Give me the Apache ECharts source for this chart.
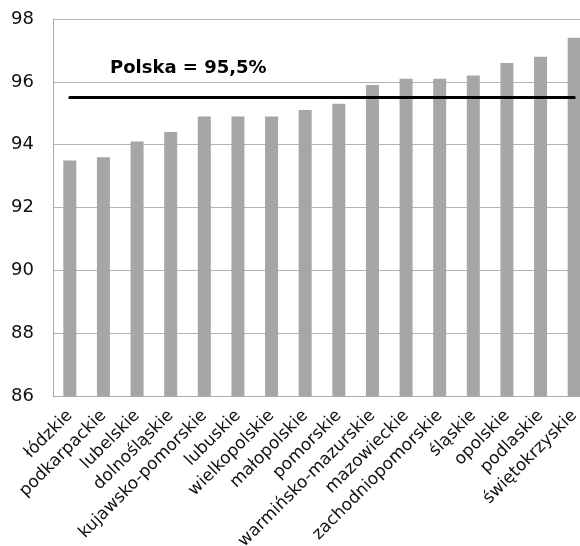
<!DOCTYPE html>
<html>
<head>
<meta charset="utf-8">
<script src="https://cdn.jsdelivr.net/npm/echarts@6/dist/echarts.min.js"></script>
<style>
html,body{margin:0;padding:0;background:#fff;}
#c{width:580px;height:546px;}
</style>
</head>
<body>
<div id="c"></div>
<script>
var categories = ['łódzkie','podkarpackie','lubelskie','dolnośląskie','kujawsko-pomorskie','lubuskie','wielkopolskie','małopolskie','pomorskie','warmińsko-mazurskie','mazowieckie','zachodniopomorskie','śląskie','opolskie','podlaskie','świętokrzyskie'];
var values = [93.5,93.6,94.1,94.4,94.9,94.9,94.9,95.1,95.3,95.9,96.1,96.1,96.2,96.6,96.8,97.4];
var polskaValue = 95.5;
var polskaLabel = 'Polska = 95,5%';
var yTicks = [86,88,90,92,94,96,98];

var polskaLine = categories.map(function(){ return polskaValue; });

var chart = echarts.init(document.getElementById('c'));
chart.setOption({
  animation: false,
  backgroundColor: '#ffffff',
  grid: { left: 53, width: 538, top: 19, height: 377, containLabel: false, outerBoundsMode: 'none' },
  graphic: [{
    type: 'text',
    left: 110,
    top: 59,
    style: {
      text: polskaLabel,
      font: 'bold 18px "DejaVu Sans"',
      fill: '#000'
    }
  }],
  xAxis: {
    type: 'category',
    data: categories,
    axisLine: { show: true, lineStyle: { color: '#ababab', width: 1 } },
    axisTick: { show: false },
    axisLabel: {
      rotate: 45,
      interval: 0,
      margin: 17,
      color: '#111',
      fontFamily: 'DejaVu Sans',
      fontSize: 17
    },
    splitLine: { show: false }
  },
  yAxis: {
    type: 'value',
    min: yTicks[0],
    max: yTicks[yTicks.length - 1],
    interval: 2,
    axisLine: { show: true, lineStyle: { color: '#ababab', width: 1 } },
    axisTick: { show: false },
    axisLabel: {
      margin: 19,
      color: '#111',
      fontFamily: 'DejaVu Sans',
      fontSize: 18
    },
    splitLine: { show: true, lineStyle: { color: '#b3b3b3', width: 1 } }
  },
  series: [
    {
      type: 'bar',
      data: values,
      barWidth: 13,
      itemStyle: { color: '#a6a6a6' }
    },
    {
      type: 'line',
      data: polskaLine,
      symbol: 'none',
      lineStyle: { color: '#000', width: 3, cap: 'round' },
      z: 5
    }
  ]
});
</script>
</body>
</html>
